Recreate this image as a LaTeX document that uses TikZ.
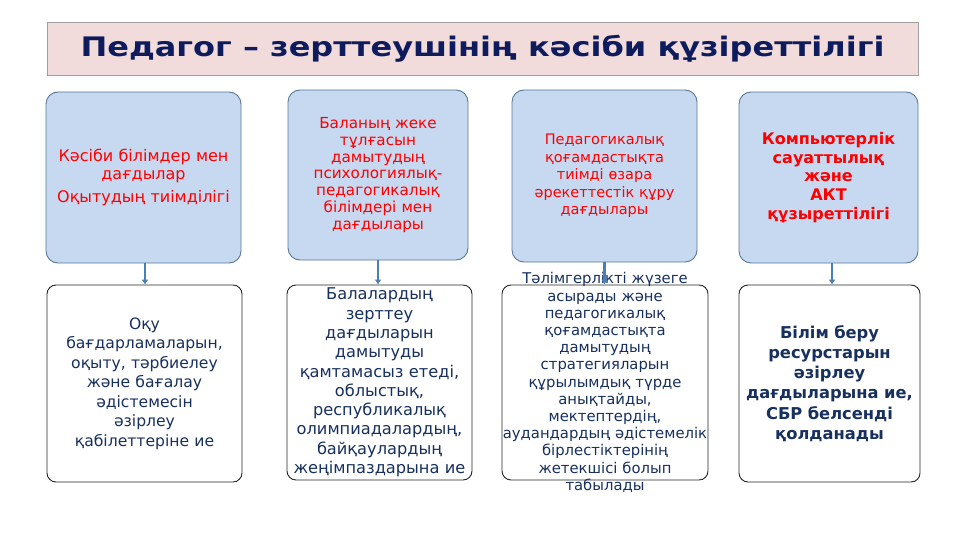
\documentclass[tikz,border=0pt]{standalone}
\usepackage{fontspec}
\setmainfont{DejaVu Sans}
\newfontfamily\titlefont[FakeStretch=1.19]{DejaVu Sans Bold}
\usetikzlibrary{arrows.meta}
\definecolor{titlefill}{HTML}{F2DCDB}
\definecolor{titledraw}{HTML}{A0A0A0}
\definecolor{titletext}{HTML}{0E1C5E}
\definecolor{topfill}{HTML}{C6D9F1}
\definecolor{topdraw}{HTML}{5A7898}
\definecolor{redtext}{HTML}{FF0000}
\definecolor{navytext}{HTML}{17305E}
\definecolor{arrowblue}{HTML}{4A7EBB}
\begin{document}
\begin{tikzpicture}[x=1pt,y=-1pt,
  titlebox/.style={draw=titledraw, fill=titlefill, line width=0.8pt, minimum width=871pt, minimum height=53pt, inner sep=0pt, text=titletext, font=\titlefont\fontsize{26.9}{30}\selectfont},
  topbox/.style={draw=topdraw, fill=topfill, rounded corners=12pt, line width=0.9pt, text=redtext, align=center, inner sep=0pt},
  botbox/.style={draw=black!85, fill=white, rounded corners=9pt, line width=0.9pt, text=navytext, align=center, inner sep=0pt},
  conn/.style={draw=arrowblue, line width=2.7pt, -{Latex[length=5pt,width=7pt]}}
]
\useasboundingbox (0,0) rectangle (960,540);
\node[titlebox] (title) at (482.5,48.5) {Педагог – зерттеушінің кәсіби құзіреттілігі};

\node[topbox, minimum width=195pt, minimum height=171pt, text width=195pt, font=\fontsize{16}{17.3}\selectfont] (t1) at (143.5,177.5)
  {Кәсіби білімдер мен\\ дағдылар\\[6pt] Оқытудың тиімділігі};
\node[topbox, minimum width=180pt, minimum height=170pt, text width=180pt, font=\fontsize{15.2}{16.7}\selectfont] (t2) at (378,175)
  {Баланың жеке\\ тұлғасын\\ дамытудың\\ психологиялық-\\ педагогикалық\\ білімдері мен\\ дағдылары};
\node[topbox, minimum width=185pt, minimum height=172pt, text width=185pt, font=\fontsize{14.5}{17.5}\selectfont] (t3) at (604.5,176)
  {Педагогикалық\\ қоғамдастықта\\ тиімді өзара\\ әрекеттестік құру\\ дағдылары};
\node[topbox, minimum width=179pt, minimum height=171pt, text width=179pt, font=\bfseries\fontsize{16}{18.75}\selectfont] (t4) at (828.5,177.5)
  {Компьютерлік\\ сауаттылық\\ және\\ АКТ\\ құзыреттілігі};

\node[botbox, minimum width=195pt, minimum height=197pt, text width=195pt, font=\fontsize{15.6}{19.5}\selectfont] (b1) at (144.5,383.5)
  {Оқу\\ бағдарламаларын,\\ оқыту, тәрбиелеу\\ және бағалау\\ әдістемесін\\ әзірлеу\\ қабілеттеріне ие};
\node[botbox, minimum width=185pt, minimum height=195pt, text width=185pt, font=\fontsize{16.2}{19.3}\selectfont] (b2) at (379.5,382.5)
  {Балалардың\\ зерттеу\\ дағдыларын\\ дамытуды\\ қамтамасыз етеді,\\ облыстық,\\ республикалық\\ олимпиадалардың,\\ байқаулардың\\ жеңімпаздарына ие};
\node[botbox, minimum width=206pt, minimum height=195pt] (b3) at (605,382.5) {};
\node[text=navytext, align=center, text width=240pt, inner sep=0pt, font=\fontsize{14.8}{17.2}\selectfont] (b3t) at (b3.center)
  {Тәлімгерлікті жүзеге\\ асырады және\\ педагогикалық\\ қоғамдастықта\\ дамытудың\\ стратегияларын\\ құрылымдық түрде\\ анықтайды,\\ мектептердің,\\ аудандардың әдістемелік\\ бірлестіктерінің\\ жетекшісі болып\\ табылады};
\node[botbox, minimum width=181pt, minimum height=197pt, text width=181pt, font=\bfseries\fontsize{16.3}{20.3}\selectfont] (b4) at (829.5,383.5)
  {Білім беру\\ ресурстарын\\ әзірлеу\\ дағдыларына ие,\\ СБР белсенді\\ қолданады};

\draw[conn] ([xshift=1.5pt]t1.south) -- ([xshift=1.5pt]t1.south |- b1.north);
\draw[conn] (t2.south) -- (t2.south |- b2.north);
\draw[conn] (t3.south) -- (t3.south |- b3.north);
\draw[conn] ([xshift=3.5pt]t4.south) -- ([xshift=3.5pt]t4.south |- b4.north);
\end{tikzpicture}
\end{document}
